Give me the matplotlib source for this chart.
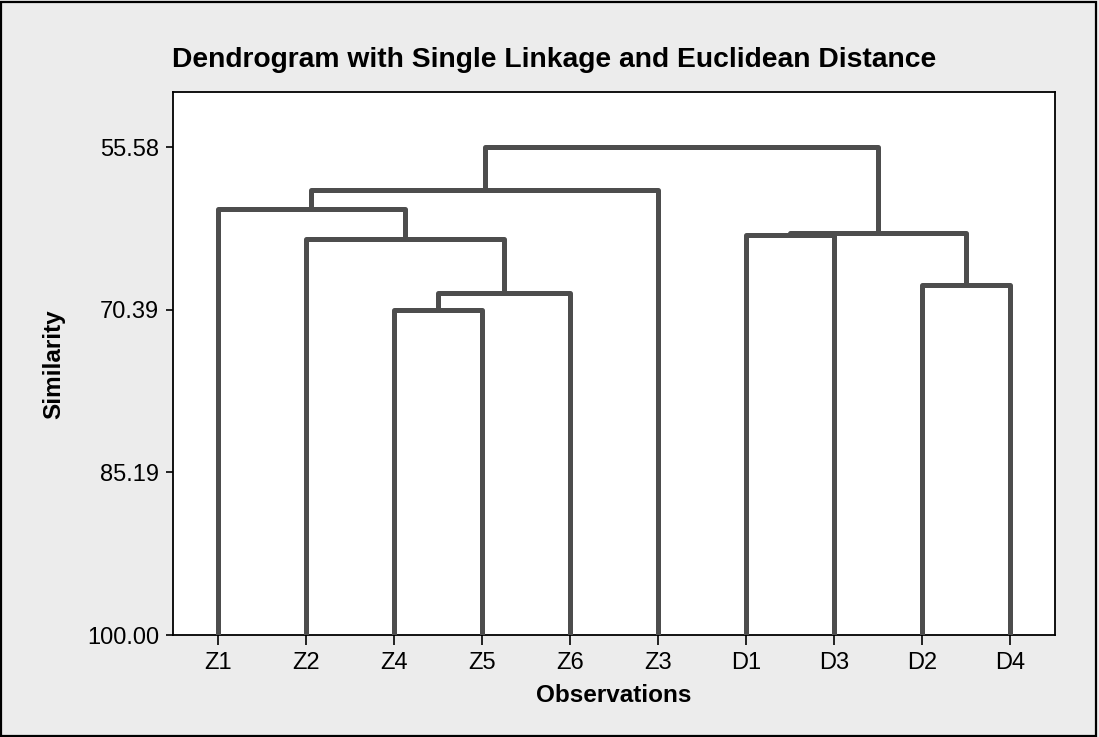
import matplotlib
matplotlib.use("Agg")
import matplotlib.pyplot as plt
from matplotlib.patches import Rectangle

# Leaf order along the x axis
leaves = ["Z1", "Z2", "Z4", "Z5", "Z6", "Z3", "D1", "D3", "D2", "D4"]

# Merge steps: (left cluster, right cluster, similarity level)
# Clusters are referred to by leaf name or by the name of an earlier merge.
merge_names = ["C1", "C2", "C3", "C4", "C5", "C6", "C7", "C8", "C9"]
merge_left = ["Z4", "C1", "Z2", "Z1", "C4", "D1", "D2", "C6", "C5"]
merge_right = ["Z5", "Z6", "C2", "C3", "Z3", "D3", "D4", "C7", "C8"]
merge_level = [70.45, 68.84, 63.95, 61.20, 59.49, 63.62, 68.17, 63.41, 55.58]

y_ticks = [55.58, 70.39, 85.19, 100.00]
y_tick_labels = ["55.58", "70.39", "85.19", "100.00"]

plt.rcParams["font.family"] = ["Liberation Sans", "DejaVu Sans"]

W, H = 1099, 737
fig = plt.figure(figsize=(W / 100, H / 100), dpi=100)
fig.patch.set_facecolor("#ececec")
fig.patches.append(Rectangle((0.001, 0.001), 0.996, 0.996, transform=fig.transFigure,
                             fill=False, edgecolor="black", linewidth=1.6, zorder=10))

ax = fig.add_axes([173 / W, 1 - 635 / H, (1055 - 173) / W, (635 - 92) / H])
ax.set_facecolor("white")

line_color = "#4d4d4d"
lw = 3.6

# position and level of every cluster
pos = {name: float(i) for i, name in enumerate(leaves)}
level = {name: 100.0 for name in leaves}

for name, a, b, h in zip(merge_names, merge_left, merge_right, merge_level):
    xa, xb = pos[a], pos[b]
    ya, yb = level[a], level[b]
    ax.plot([xa, xa, xb, xb], [ya, h, h, yb], color=line_color, linewidth=lw,
            solid_joinstyle="round", solid_capstyle="butt", zorder=3)
    pos[name] = (xa + xb) / 2
    level[name] = h

ax.set_xlim(-0.51, len(leaves) - 1 + 0.51)
ax.set_ylim(100.0, 50.57)

ax.set_xticks(range(len(leaves)))
ax.set_xticklabels(leaves)
ax.set_yticks(y_ticks)
ax.set_yticklabels(y_tick_labels)

for s in ax.spines.values():
    s.set_linewidth(1.3)
    s.set_color("black")

ax.tick_params(axis="x", length=7, width=1.2, labelsize=17, pad=5.5, colors="black")
ax.tick_params(axis="y", length=5, width=1.2, labelsize=17, pad=5, colors="black")

ax.set_xlabel("Observations", fontsize=17.5, fontweight="bold", va="baseline")
ax.xaxis.set_label_coords(0.5, (635 - 702) / 543)
ax.set_ylabel("Similarity", fontsize=17.5, fontweight="bold", va="baseline")
ax.yaxis.set_label_coords((60 - 173) / 882, (635 - 364) / 543)

fig.text(554 / W, 1 - 66.7 / H, "Dendrogram with Single Linkage and Euclidean Distance",
         ha="center", va="baseline", fontsize=20.3, fontweight="bold")

fig.savefig("out.png", dpi=100, facecolor=fig.get_facecolor())
